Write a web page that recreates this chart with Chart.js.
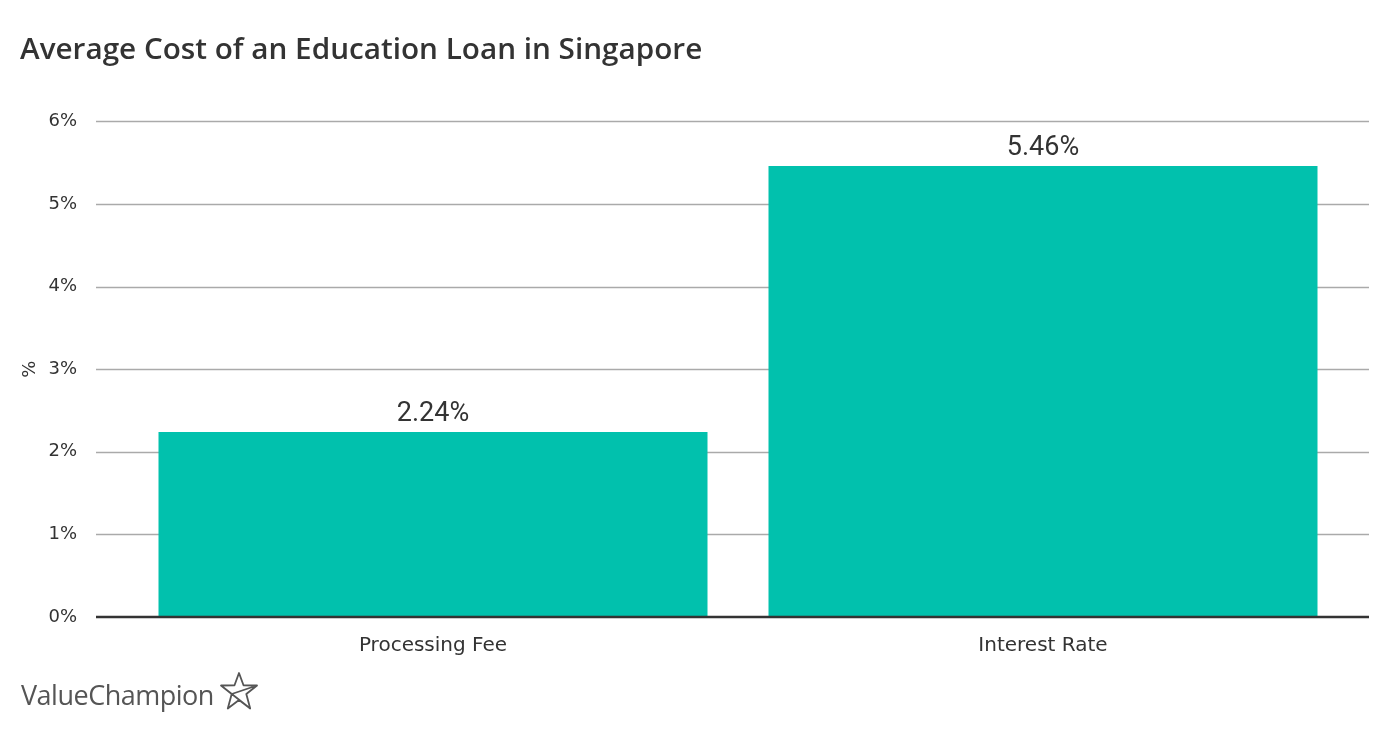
<!DOCTYPE html>
<html>
<head>
<meta charset="utf-8">
<script src="https://cdn.jsdelivr.net/npm/chart.js@4/dist/chart.umd.min.js"></script>
<style>
  body { margin: 0; background: #fff; }
  #wrap { position: relative; width: 1400px; height: 744px; }
  #logo { position: absolute; left: 21px; top: 676px; font-family: "Open Sans", sans-serif; font-size: 27px; color: #555; letter-spacing: -0.5px; display: flex; align-items: center; }
  #logo svg { margin-left: 5px; margin-top: -7px; }
</style>
</head>
<body>
<div id="wrap">
  <canvas id="canvas" width="1400" height="744"></canvas>
  <div id="logo">ValueChampion<svg width="40" height="40" viewBox="0 0 40 40"><path d="M20 2 L24.5 14.3 L38 14.5 L27.3 23 L31.2 37.5 L20 29 L8.8 37.5 L12.7 23 L2 14.5 L15.5 14.3 Z M2 14.5 L31.2 37.5 M38 14.5 L12.7 23" fill="none" stroke="#555" stroke-width="1.8" stroke-linejoin="round"/></svg></div>
</div>
<script>
var categories = ["Processing Fee", "Interest Rate"];
var costs = [2.24, 5.46];
var yTicks = [0, 1, 2, 3, 4, 5, 6];

// grid lines reach a bit past the bars on both sides
var wideGrid = {
  id: 'wideGrid',
  beforeDatasetsDraw: function(chart) {
    var ctx = chart.ctx, y = chart.scales.y, a = chart.chartArea;
    ctx.save();
    yTicks.forEach(function(t) {
      if (t === 0) return;
      var py = Math.round(y.getPixelForValue(t)) + 0.5;
      ctx.strokeStyle = '#aaaaaa';
      ctx.lineWidth = 1.5;
      ctx.beginPath();
      ctx.moveTo(a.left - 32, py);
      ctx.lineTo(a.right + 21, py);
      ctx.stroke();
    });
    ctx.restore();
  },
  afterDatasetsDraw: function(chart) {
    var ctx = chart.ctx, y = chart.scales.y, a = chart.chartArea;
    ctx.save();
    var py = y.getPixelForValue(0);
    ctx.strokeStyle = '#333333';
    ctx.lineWidth = 2.5;
    ctx.beginPath();
    ctx.moveTo(a.left - 32, py);
    ctx.lineTo(a.right + 21, py);
    ctx.stroke();
    // value labels
    var meta = chart.getDatasetMeta(0);
    ctx.fillStyle = '#333333';
    ctx.font = '27px Roboto';
    ctx.textAlign = 'center';
    ctx.textBaseline = 'middle';
    meta.data.forEach(function(bar, i) {
      ctx.fillText(costs[i].toFixed(2) + '%', bar.x, bar.y - 18);
    });
    ctx.restore();
  }
};

var ctxL = document.getElementById('canvas').getContext('2d');
var mychart = new Chart(ctxL, {
  type: 'bar',
  data: {
    labels: categories,
    datasets: [{
      data: costs,
      backgroundColor: '#01c1ad',
      categoryPercentage: 1,
      barPercentage: 0.9
    }]
  },
  options: {
    responsive: false,
    animation: false,
    layout: { padding: { left: 20, right: 52, top: 0, bottom: 0 } },
    plugins: {
      legend: { display: false },
      tooltip: { enabled: false },
      title: {
        display: true,
        text: 'Average Cost of an Education Loan in Singapore',
        align: 'start',
        color: '#333333',
        font: { family: 'Open Sans', size: 29.7, weight: '600' },
        padding: { top: 32.5, bottom: 53.2 }
      }
    },
    scales: {
      x: {
        grid: { display: false, drawTicks: false },
        border: { display: false },
        ticks: { color: '#333333', font: { family: 'DejaVu Sans', size: 20 }, padding: 17 },
        afterFit: function(scale) { scale.height = 127; }
      },
      y: {
        min: 0,
        max: 6,
        grid: { display: false, drawTicks: false },
        border: { display: false },
        ticks: {
          stepSize: 1,
          color: '#333333',
          font: { family: 'DejaVu Sans', size: 18 },
          padding: 51,
          callback: function(v) { return v + '%'; }
        },
        title: { display: true, text: '%', color: '#333333', font: { family: 'DejaVu Sans', size: 18 }, padding: 0 },
        afterFit: function(scale) { scale.width = 108; }
      }
    }
  },
  plugins: [wideGrid]
});
</script>
</body>
</html>
